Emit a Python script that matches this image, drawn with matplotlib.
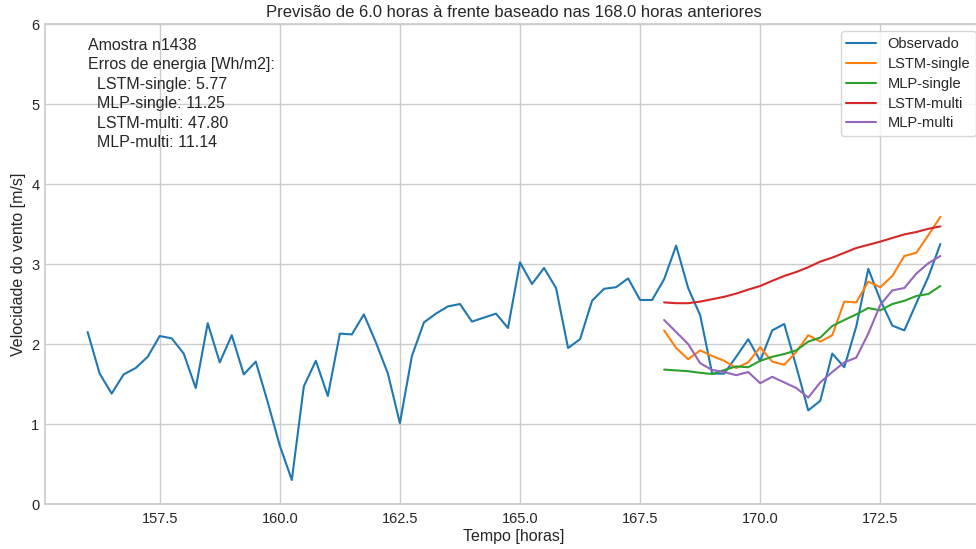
import numpy as np
import matplotlib
matplotlib.use('Agg')
import matplotlib.pyplot as plt
import seaborn as sns

# Data (15-minute steps)
t_obs = np.arange(156.0, 173.76, 0.25)
observado = [2.15, 1.63, 1.38, 1.62, 1.70, 1.84, 2.10, 2.07, 1.88, 1.45,
             2.26, 1.77, 2.11, 1.62, 1.78, 1.27, 0.73, 0.30, 1.47, 1.79,
             1.35, 2.13, 2.12, 2.37, 2.02, 1.63, 1.01, 1.85, 2.27, 2.38,
             2.47, 2.50, 2.28, 2.33, 2.38, 2.20, 3.02, 2.75, 2.95, 2.70,
             1.95, 2.06, 2.54, 2.69, 2.71, 2.82, 2.55, 2.55, 2.81, 3.23,
             2.70, 2.36, 1.63, 1.63, 1.84, 2.06, 1.79, 2.17, 2.25, 1.72,
             1.17, 1.29, 1.88, 1.71, 2.22, 2.94, 2.55, 2.23, 2.17, 2.51,
             2.84, 3.25]

t_prev = np.arange(168.0, 173.76, 0.25)
lstm_single = [2.17, 1.95, 1.81, 1.92, 1.85, 1.79, 1.70, 1.77, 1.96, 1.78,
               1.74, 1.90, 2.11, 2.03, 2.11, 2.53, 2.52, 2.78, 2.71, 2.85,
               3.10, 3.14, 3.36, 3.59]
mlp_single = [1.68, 1.67, 1.66, 1.64, 1.625, 1.675, 1.72, 1.71, 1.79, 1.84,
              1.875, 1.92, 2.03, 2.08, 2.225, 2.30, 2.37, 2.45, 2.42, 2.50,
              2.54, 2.60, 2.625, 2.725]
lstm_multi = [2.52, 2.51, 2.51, 2.53, 2.56, 2.59, 2.63, 2.68, 2.725, 2.79,
              2.85, 2.90, 2.96, 3.03, 3.08, 3.14, 3.20, 3.24, 3.28, 3.325,
              3.37, 3.40, 3.44, 3.47]
mlp_multi = [2.30, 2.15, 2.00, 1.76, 1.675, 1.65, 1.61, 1.65, 1.51, 1.59,
             1.52, 1.45, 1.33, 1.52, 1.65, 1.77, 1.83, 2.13, 2.49, 2.67,
             2.70, 2.88, 3.01, 3.10]

series = {
    'LSTM-single': lstm_single,
    'MLP-single': mlp_single,
    'LSTM-multi': lstm_multi,
    'MLP-multi': mlp_multi,
}
erros = {'LSTM-single': 5.77, 'MLP-single': 11.25, 'LSTM-multi': 47.80, 'MLP-multi': 11.14}
amostra = 1438

sns.set_theme(style='whitegrid', palette='tab10')
plt.rcParams['font.family'] = ['Liberation Sans', 'DejaVu Sans']

fig = plt.figure(figsize=(9.76, 5.49), dpi=100)
ax = fig.add_axes([45 / 976, 45 / 549, 938 / 976, 480 / 549])

ax.plot(t_obs, observado, label='Observado', linewidth=1.5)
for name, vals in series.items():
    ax.plot(t_prev, vals, label=name, linewidth=1.5)

ax.set_ylim(0, 6)
ax.set_title('Previsão de 6.0 horas à frente baseado nas 168.0 horas anteriores', fontsize=12, pad=5)
ax.set_xlabel('Tempo [horas]', fontsize=11.5, labelpad=2)
ax.set_ylabel('Velocidade do vento [m/s]', fontsize=11.5, labelpad=4)
ax.tick_params(axis='both', length=0, labelsize=10.5)
ax.tick_params(axis='x', pad=6)
ax.tick_params(axis='y', pad=4)

txt = f'Amostra n{amostra}\nErros de energia [Wh/m2]:\n'
txt += '\n'.join(f'  {k}: {v:.2f}' for k, v in erros.items())
ax.text(t_obs[0], 5.83, txt, va='top', ha='left', fontsize=11.5, linespacing=1.38)

ax.legend(loc='upper right', fontsize=10.5, labelspacing=0.4)

fig.savefig('out.png', dpi=100)
